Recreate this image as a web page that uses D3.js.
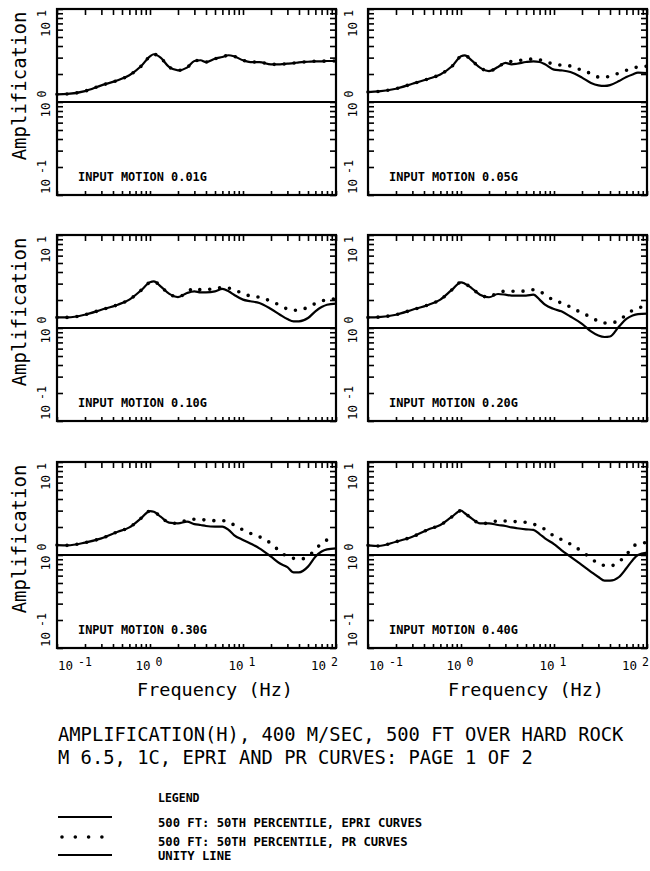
<!DOCTYPE html>
<html>
<head>
<meta charset="utf-8">
<script src="https://cdn.jsdelivr.net/npm/d3@7"></script>
<style>
  html, body { margin: 0; padding: 0; background: #fff; }
  svg { display: block; }
  text { font-family: "DejaVu Sans Mono", "Liberation Mono", monospace; fill: #000; }
</style>
</head>
<body>
<script>
// Frequencies (Hz) at which the amplification curves are sampled
const freqHz = [0.1, 0.13, 0.2, 0.3, 0.45, 0.6, 0.8, 1.0, 1.1, 1.3, 1.6, 2.0, 2.5, 3.0, 3.5, 4, 5, 6, 7, 8,
                10, 12, 15, 20, 25, 30, 35, 40, 50, 60, 70, 80, 100];

// 500 ft, 50th percentile amplification, EPRI curves (solid)
const epri001 = [1.21,1.22,1.31,1.51,1.71,1.94,2.42,3.10,3.26,3.00,2.38,2.19,2.34,2.76,2.81,2.69,2.92,3.05,3.18,3.10,2.81,2.69,2.69,2.54,2.54,2.58,2.62,2.67,2.71,2.74,2.74,2.76,2.76];
const epri005 = [1.28,1.30,1.39,1.57,1.78,1.98,2.42,3.10,3.17,2.81,2.34,2.15,2.38,2.63,2.54,2.58,2.69,2.74,2.69,2.54,2.23,2.19,2.10,1.83,1.60,1.51,1.49,1.52,1.68,1.86,1.98,2.07,2.05];
const epri010 = [1.30,1.30,1.39,1.57,1.78,2.02,2.54,3.10,3.17,2.81,2.34,2.15,2.38,2.48,2.42,2.42,2.48,2.63,2.48,2.28,2.02,1.94,1.86,1.60,1.39,1.25,1.18,1.18,1.28,1.51,1.68,1.78,1.83];
const epri020 = [1.30,1.31,1.39,1.57,1.78,2.02,2.58,3.10,3.00,2.69,2.28,2.14,2.32,2.28,2.23,2.23,2.23,2.28,2.02,1.78,1.60,1.51,1.33,1.11,0.92,0.83,0.80,0.81,1.04,1.25,1.36,1.41,1.43];
const epri030 = [1.28,1.27,1.36,1.51,1.78,1.98,2.48,2.97,2.92,2.58,2.23,2.19,2.28,2.15,2.10,2.05,2.02,2.02,1.86,1.64,1.45,1.33,1.18,0.96,0.81,0.74,0.65,0.65,0.75,0.96,1.09,1.15,1.18];
const epri040 = [1.27,1.25,1.39,1.57,1.89,2.10,2.58,3.00,2.81,2.48,2.19,2.19,2.10,2.05,1.98,1.94,1.89,1.86,1.68,1.51,1.31,1.13,0.96,0.78,0.66,0.58,0.53,0.53,0.58,0.72,0.88,1.00,1.06];

// 500 ft, 50th percentile amplification, PR curves (dotted)
const pr001 = [1.21,1.22,1.31,1.51,1.71,1.94,2.42,3.10,3.26,3.00,2.38,2.19,2.34,2.76,2.81,2.69,2.92,3.05,3.18,3.10,2.81,2.69,2.69,2.54,2.54,2.58,2.62,2.67,2.71,2.74,2.74,2.76,2.76];
const pr005 = [1.28,1.30,1.39,1.57,1.78,1.98,2.42,3.10,3.17,2.81,2.34,2.15,2.38,2.66,2.73,2.78,2.85,2.90,2.85,2.69,2.58,2.48,2.44,2.19,2.02,1.86,1.86,1.89,2.05,2.19,2.30,2.38,2.42];
const pr010 = [1.30,1.30,1.39,1.57,1.78,2.02,2.54,3.10,3.17,2.81,2.34,2.15,2.42,2.69,2.58,2.60,2.63,2.74,2.69,2.58,2.34,2.21,2.14,1.94,1.75,1.60,1.55,1.55,1.68,1.83,1.94,2.02,2.05];
const pr020 = [1.30,1.31,1.39,1.57,1.78,2.02,2.58,3.10,3.00,2.69,2.28,2.14,2.42,2.48,2.48,2.48,2.50,2.58,2.48,2.28,1.98,1.86,1.68,1.45,1.31,1.18,1.13,1.13,1.21,1.39,1.55,1.64,1.71];
const pr030 = [1.28,1.27,1.36,1.51,1.78,1.98,2.48,2.97,2.92,2.58,2.23,2.19,2.38,2.42,2.40,2.38,2.34,2.34,2.28,2.10,1.86,1.71,1.57,1.33,1.09,0.96,0.92,0.90,0.96,1.15,1.33,1.45,1.51];
const pr040 = [1.27,1.25,1.39,1.57,1.89,2.10,2.58,3.00,2.81,2.48,2.19,2.19,2.34,2.32,2.30,2.28,2.24,2.15,2.02,1.89,1.60,1.47,1.31,1.09,0.92,0.81,0.77,0.76,0.85,1.00,1.23,1.31,1.36];

// Input motion levels, one per panel
const inputMotions = ["0.01G", "0.05G", "0.10G", "0.20G", "0.30G", "0.40G"];

// Decade tick labels (10 to the power shown)
const xDecades = [0.1, 1, 10, 100];
const xExponents = ["-1", "0", "1", "2"];
const yDecades = [0.1, 1, 10];
const yExponents = ["-1", "0", "1"];

const titleLines = [
  "AMPLIFICATION(H), 400 M/SEC, 500 FT OVER HARD ROCK",
  "M 6.5, 1C, EPRI AND PR CURVES: PAGE 1 OF 2"
];
const legendTitle = "LEGEND";
const legendLabels = [
  "500 FT: 50TH PERCENTILE, EPRI CURVES",
  "500 FT: 50TH PERCENTILE, PR CURVES",
  "UNITY LINE"
];

const W = 650, H = 871;
const colX = [57, 368];
const rowY = [9, 235, 462];
const pw = 279, ph = 186;

const svg = d3.select("body").append("svg").attr("width", W).attr("height", H);
svg.append("rect").attr("width", W).attr("height", H).attr("fill", "#fff");

const x = d3.scaleLog().domain([0.1, 100]).range([0, pw]);
const y = d3.scaleLog().domain([0.1, 10]).range([ph, 0]);

const line = d3.line()
  .x((d, i) => x(freqHz[i]))
  .y(d => y(d))
  .curve(d3.curveMonotoneX);

const epriSeries = [epri001, epri005, epri010, epri020, epri030, epri040];
const prSeries = [pr001, pr005, pr010, pr020, pr030, pr040];

function exponentLabel(sel, exp) {
  sel.append("tspan").text("10");
  sel.append("tspan").attr("dx", 5).attr("dy", -4).attr("font-size", 11.5).text(exp);
}

inputMotions.forEach((motion, k) => {
  const col = k % 2, row = Math.floor(k / 2);
  const g = svg.append("g").attr("transform", `translate(${colX[col]},${rowY[row]})`);

  // inward ticks on all four sides
  const noDomain = s => s.select(".domain").remove();
  g.append("g").attr("transform", `translate(0,${ph})`)
    .call(d3.axisBottom(x).tickSize(-4).tickFormat("")).call(noDomain);
  g.append("g")
    .call(d3.axisTop(x).tickSize(-6).tickFormat("")).call(noDomain);
  g.append("g")
    .call(d3.axisLeft(y).tickSize(-6).tickFormat("")).call(noDomain);
  g.append("g").attr("transform", `translate(${pw},0)`)
    .call(d3.axisRight(y).tickSize(-6).tickFormat("")).call(noDomain);
  g.selectAll(".tick line").attr("stroke", "#000").attr("stroke-width", 1.6);

  // unity line
  g.append("line")
    .attr("x1", 0).attr("x2", pw).attr("y1", y(1)).attr("y2", y(1))
    .attr("stroke", "#000").attr("stroke-width", 2);

  // EPRI curve
  g.append("path").datum(epriSeries[k]).attr("d", line)
    .attr("fill", "none").attr("stroke", "#000").attr("stroke-width", 2.2)
    .attr("stroke-linejoin", "round");

  // PR curve, dotted
  g.append("path").datum(prSeries[k]).attr("d", line)
    .attr("fill", "none").attr("stroke", "#000").attr("stroke-width", 3.6)
    .attr("stroke-linecap", "round").attr("stroke-dasharray", "0 10");

  // frame
  g.append("rect").attr("width", pw).attr("height", ph)
    .attr("fill", "none").attr("stroke", "#000").attr("stroke-width", 2.2);

  // input motion label
  g.append("text").attr("x", 21).attr("y", ph - 14)
    .attr("font-size", 11.9).attr("font-weight", "bold")
    .text("INPUT MOTION " + motion);

  // y decade labels, rotated and kept inside the frame height
  const labX = col === 0 ? -7 : -11;
  yDecades.forEach((v, i) => {
    let yy, anchor;
    if (i === 0) { yy = ph - 1; anchor = "start"; }
    else if (i === yDecades.length - 1) { yy = 1; anchor = "end"; }
    else { yy = y(v) + 2; anchor = "middle"; }
    const t = g.append("text")
      .attr("transform", `translate(${labX},${yy}) rotate(-90)`)
      .attr("text-anchor", anchor).attr("font-size", 12.5);
    exponentLabel(t, yExponents[i]);
  });

  // left column axis title
  if (col === 0) {
    g.append("text")
      .attr("transform", `translate(-31,${ph / 2 - 16}) rotate(-90)`)
      .attr("text-anchor", "middle").attr("font-size", 19)
      .text("Amplification");
  }

  // bottom row: frequency decade labels and axis title
  if (row === 2) {
    xDecades.forEach((v, i) => {
      let xx, anchor;
      if (i === 0) { xx = x(v) + 1; anchor = "start"; }
      else if (i === xDecades.length - 1) { xx = x(v) + 2; anchor = "end"; }
      else { xx = x(v) - 1; anchor = "middle"; }
      const t = g.append("text").attr("x", xx).attr("y", ph + 22)
        .attr("text-anchor", anchor).attr("font-size", 12.5);
      exponentLabel(t, xExponents[i]);
    });
    g.append("text").attr("x", 80).attr("y", ph + 48)
      .attr("font-size", 18.5).text("Frequency (Hz)");
  }
});

// title block
titleLines.forEach((s, i) => {
  svg.append("text").attr("x", 58).attr("y", 741 + i * 23)
    .attr("font-size", 18.8).text(s);
});

// legend
svg.append("text").attr("x", 158).attr("y", 802)
  .attr("font-size", 11.5).attr("font-weight", "bold").text(legendTitle);
const legendRows = [
  { y: 817, ty: 827, kind: "solid" },
  { y: 837, ty: 846, kind: "dots" },
  { y: 855, ty: 860, kind: "unity" }
];
legendRows.forEach((r, i) => {
  if (r.kind === "dots") {
    svg.append("line").attr("x1", 62).attr("x2", 102).attr("y1", r.y).attr("y2", r.y)
      .attr("stroke", "#000").attr("stroke-width", 3.6)
      .attr("stroke-linecap", "round").attr("stroke-dasharray", "0 13.3");
  } else {
    svg.append("line").attr("x1", 58).attr("x2", 112).attr("y1", r.y).attr("y2", r.y)
      .attr("stroke", "#000").attr("stroke-width", r.kind === "solid" ? 2.2 : 1.8);
  }
  svg.append("text").attr("x", 158).attr("y", r.ty)
    .attr("font-size", 12.2).attr("font-weight", "bold").text(legendLabels[i]);
});
</script>
</body>
</html>
